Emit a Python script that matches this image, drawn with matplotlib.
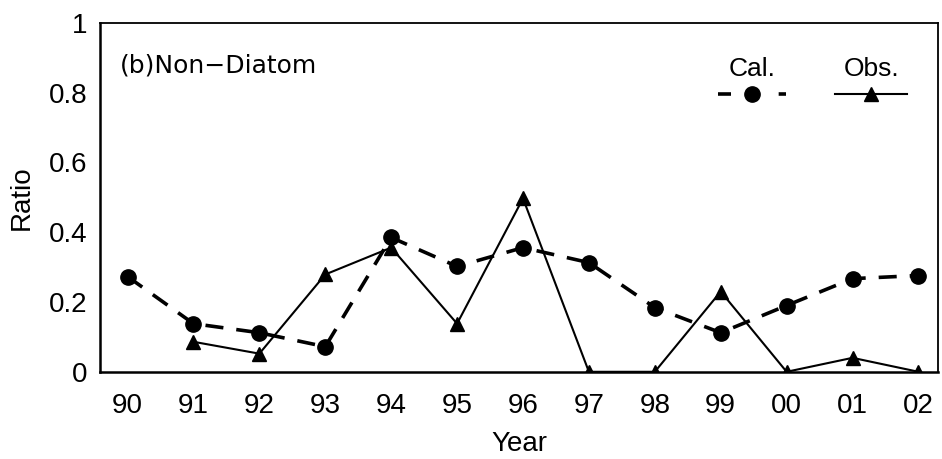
import numpy as np
import matplotlib

matplotlib.use("Agg")
import matplotlib.pyplot as plt
from matplotlib.lines import Line2D

plt.rcParams["font.family"] = ["Liberation Sans", "DejaVu Sans"]

# years shown on the x axis
years = ["90", "91", "92", "93", "94", "95", "96", "97", "98", "99", "00", "01", "02"]

# calculated ratio (dashed line, circles)
cal = [0.273, 0.138, 0.112, 0.072, 0.385, 0.302, 0.356, 0.313, 0.184, 0.112, 0.190, 0.267, 0.276]

# observed ratio (solid line, triangles), no value for 90
obs = [np.nan, 0.086, 0.052, 0.279, 0.356, 0.138, 0.497, 0.0, 0.0, 0.230, 0.0, 0.040, 0.0]

x = np.arange(len(years))

fig = plt.figure(figsize=(9.42, 4.59), dpi=100)
ax = fig.add_axes([0.106, 0.19, 0.89, 0.76])

ax.plot(x, cal, color="black", linestyle=(0, (5, 3.6)), linewidth=2.6,
        marker="o", markersize=11)
ax.plot(x, obs, color="black", linestyle="-", linewidth=1.5,
        marker="^", markersize=10)

ax.set_xlim(-0.42, 12.3)
ax.set_ylim(0, 1)
ax.set_xticks(x)
ax.set_xticklabels(years)
ax.set_yticks([0, 0.2, 0.4, 0.6, 0.8, 1.0])
ax.set_yticklabels(["0", "0.2", "0.4", "0.6", "0.8", "1"])
ax.tick_params(axis="x", length=0, pad=15, labelsize=20)
ax.tick_params(axis="y", length=0, pad=9, labelsize=20)

for s in ("left", "bottom"):
    ax.spines[s].set_linewidth(1.8)
for s in ("top", "right"):
    ax.spines[s].set_linewidth(1.3)

ax.set_xlabel("Year", fontsize=20, labelpad=9)
ax.set_ylabel("Ratio", fontsize=20, labelpad=10)

ax.text(0.024, 0.877, "(b)Non\u2212Diatom", transform=ax.transAxes,
        fontsize=18, va="center", ha="left", family="DejaVu Sans")

# legend: label above the line sample, one legend per series
h_cal = Line2D([], [], color="black", linestyle=(0, (3.6, 13.2)), linewidth=2.6,
               marker="o", markersize=11)
h_obs = Line2D([], [], color="black", linestyle="-", linewidth=1.5,
               marker="^", markersize=10)
leg1 = ax.legend([h_cal], [""], title="Cal.", title_fontsize=19, fontsize=10,
                 frameon=False, handlelength=4.9, loc="center",
                 bbox_to_anchor=(0.778, 0.837), borderpad=0, handletextpad=0,
                 borderaxespad=0)
ax.add_artist(leg1)
ax.legend([h_obs], [""], title="Obs.", title_fontsize=19, fontsize=10,
          frameon=False, handlelength=5.2, loc="center",
          bbox_to_anchor=(0.92, 0.837), borderpad=0, handletextpad=0,
          borderaxespad=0)

fig.savefig("out.png", dpi=100)
